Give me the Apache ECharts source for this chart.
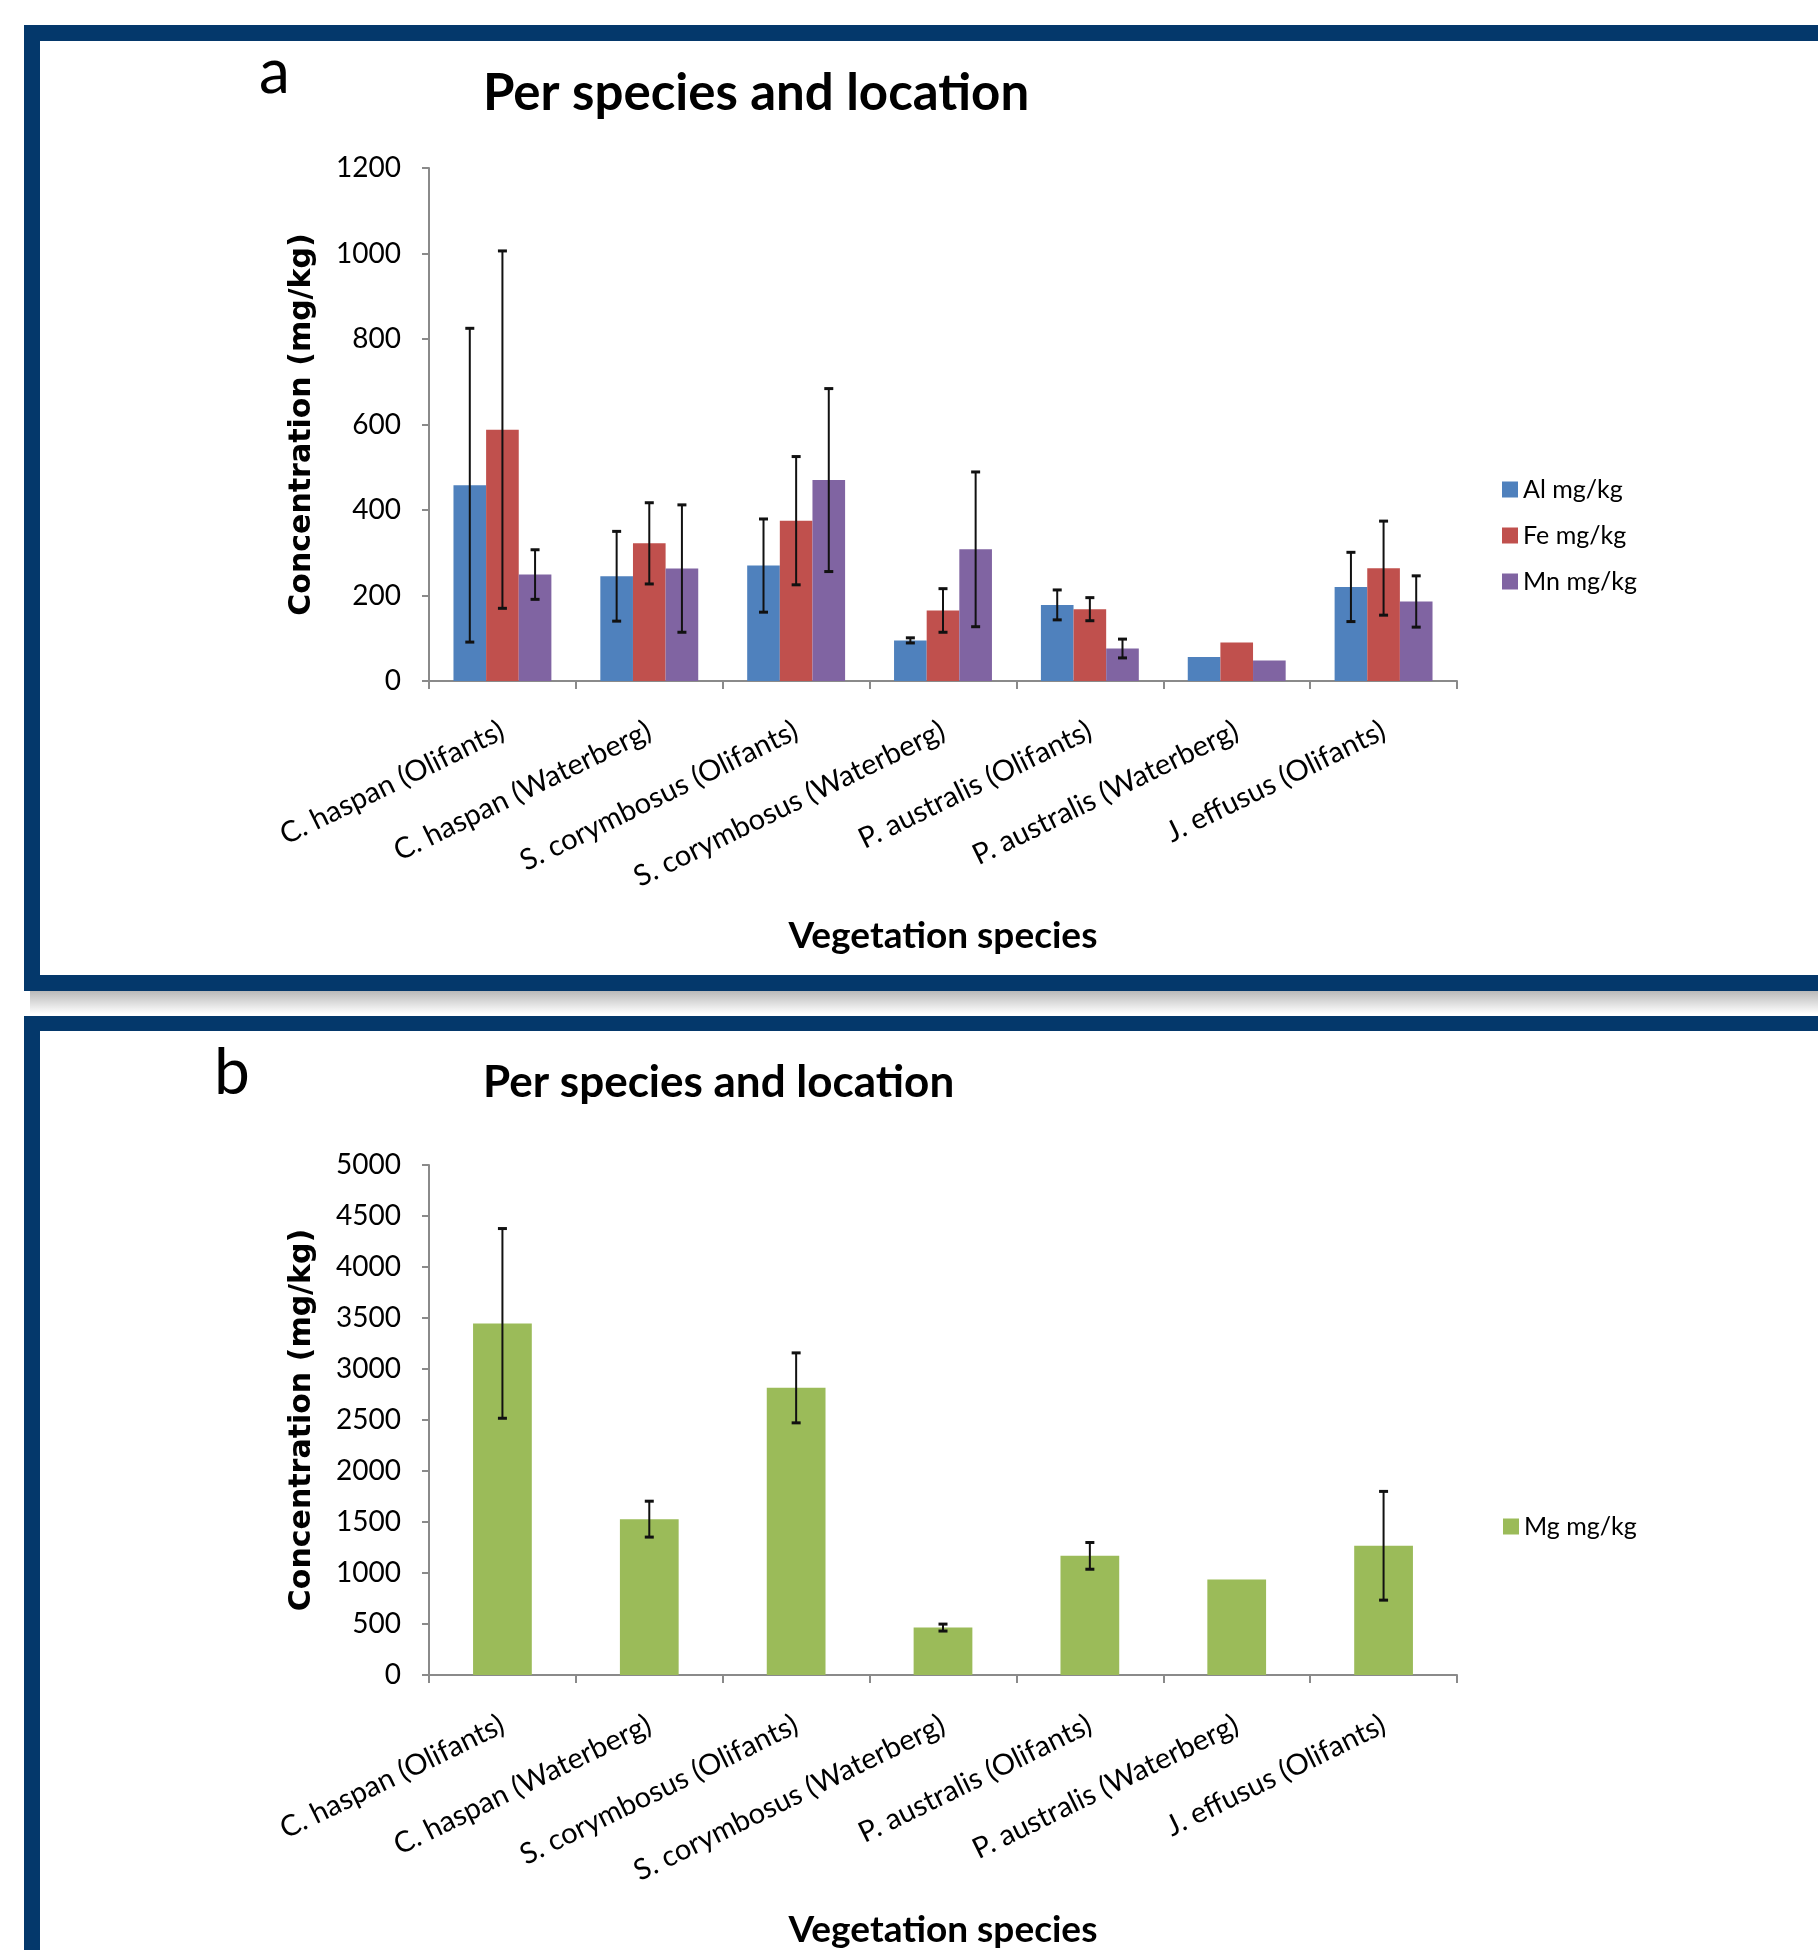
<!DOCTYPE html>
<html>
<head>
<meta charset="utf-8">
<title>Per species and location</title>
<script src="https://cdn.jsdelivr.net/npm/echarts@6/dist/echarts.min.js"></script>
<style>
  html, body { margin: 0; padding: 0; background: #fff; }
  #chart { width: 1818px; height: 1950px; }
</style>
</head>
<body>
<div id="chart"></div>
<script>
// categories (same for both panels)
const categories = [
    'C. haspan (Olifants)',
    'C. haspan (Waterberg)',
    'S. corymbosus (Olifants)',
    'S. corymbosus (Waterberg)',
    'P. australis (Olifants)',
    'P. australis (Waterberg)',
    'J. effusus (Olifants)'
];

// panel a: mean concentration and error (+/-), mg/kg
const alValues = [458, 245, 270, 95, 178, 56, 220];
const alErr = [367, 105, 109, 6, 35, 0, 81];
const feValues = [588, 322, 375, 165, 168, 90, 264];
const feErr = [418, 95, 150, 51, 27, 0, 110];
const mnValues = [249, 263, 470, 308, 76, 48, 186];
const mnErr = [58, 149, 214, 181, 22, 0, 60];

// panel b
const mgValues = [3447, 1528, 2815, 465, 1168, 937, 1267];
const mgErr = [930, 176, 343, 34, 131, 0, 533];

const yTicksA = { min: 0, max: 1200, interval: 200 };
const yTicksB = { min: 0, max: 5000, interval: 500 };

const navy = '#04386b';
const axisGray = '#8a8a8a';

const chart = echarts.init(document.getElementById('chart'));

// error bar data: [categoryIndex, low, high], skipped where no error bar was drawn
function errData(values, errs) {
    const out = [];
    values.forEach((v, i) => {
        if (errs[i]) out.push([i, v - errs[i], v + errs[i]]);
    });
    return out;
}

// slot = position of the bar inside its group, count = bars per group
function errorBarRenderer(slot, count) {
    return function (params, api) {
        const cat = api.value(0);
        const top = api.coord([cat, api.value(2)]);
        const bot = api.coord([cat, api.value(1)]);
        const band = api.size([1, 0])[0];
        const barW = count === 3 ? band / 4.5 : band * 0.4;
        const x = top[0] + (slot - (count - 1) / 2) * barW;
        const cap = 4.5;
        const capStyle = { stroke: '#111', lineWidth: 3 };
        return {
            type: 'group',
            children: [
                { type: 'line', shape: { x1: x, y1: top[1], x2: x, y2: bot[1] }, style: { stroke: '#111', lineWidth: 2 } },
                { type: 'line', shape: { x1: x - cap, y1: top[1], x2: x + cap, y2: top[1] }, style: capStyle },
                { type: 'line', shape: { x1: x - cap, y1: bot[1], x2: x + cap, y2: bot[1] }, style: capStyle }
            ]
        };
    };
}

const fontMain = 'Lato, "Open Sans", sans-serif';

function makeXAxis(gridIndex) {
    return {
        type: 'category',
        gridIndex: gridIndex,
        data: categories,
        name: 'Vegetation species',
        nameLocation: 'middle',
        nameGap: 237,
        nameMoveOverlap: false,
        nameTextStyle: { fontFamily: fontMain, fontWeight: 'bold', fontSize: 37, color: '#000' },
        axisLine: { lineStyle: { color: axisGray, width: 2 } },
        axisTick: { show: true, length: 8, interval: 0, lineStyle: { color: axisGray, width: 2 } },
        axisLabel: {
            interval: 0,
            rotate: 26,
            margin: 48,
            fontFamily: fontMain,
            fontSize: 29,
            color: '#000'
        },
        splitLine: { show: false }
    };
}

function makeYAxis(gridIndex, ticks) {
    return {
        type: 'value',
        gridIndex: gridIndex,
        min: ticks.min,
        max: ticks.max,
        interval: ticks.interval,
        name: 'Concentration (mg/kg)',
        nameLocation: 'middle',
        nameGap: 112,
        nameMoveOverlap: false,
        nameTextStyle: { fontFamily: '"DejaVu Sans", sans-serif', fontWeight: 'bold', fontSize: 30, color: '#000' },
        axisLine: { show: true, lineStyle: { color: axisGray, width: 2 } },
        axisTick: { show: true, length: 7, lineStyle: { color: axisGray, width: 2 } },
        axisLabel: {
            margin: 28,
            fontFamily: fontMain,
            fontSize: 28,
            color: '#000',
            formatter: value => String(value)
        },
        splitLine: { show: false }
    };
}

const option = {
    backgroundColor: '#fff',
    animation: false,
    graphic: [
        // panel a frame
        { type: 'rect', shape: { x: 24, y: 25, width: 1794, height: 16 }, style: { fill: navy } },
        { type: 'rect', shape: { x: 24, y: 25, width: 16, height: 966 }, style: { fill: navy } },
        { type: 'rect', shape: { x: 24, y: 975, width: 1794, height: 16 }, style: { fill: navy } },
        {
            type: 'rect', shape: { x: 30, y: 991, width: 1788, height: 23 },
            style: {
                fill: new echarts.graphic.LinearGradient(0, 0, 0, 1, [
                    { offset: 0, color: '#b9b9b9' },
                    { offset: 1, color: '#ffffff' }
                ])
            }
        },
        // panel b frame
        { type: 'rect', shape: { x: 24, y: 1016, width: 1794, height: 15 }, style: { fill: navy } },
        { type: 'rect', shape: { x: 24, y: 1016, width: 16, height: 934 }, style: { fill: navy } }
    ],
    title: [
        { text: 'a', left: 254, top: 37, textStyle: { fontFamily: fontMain, fontWeight: 'normal', fontSize: 62, color: '#000' } },
        { text: 'Per species and location', left: 478, top: 63, textStyle: { fontFamily: fontMain, fontWeight: 'bold', fontSize: 51, color: '#000' } },
        { text: 'b', left: 209, top: 1036, textStyle: { fontFamily: fontMain, fontWeight: 'normal', fontSize: 64, color: '#000' } },
        { text: 'Per species and location', left: 478, top: 1056, textStyle: { fontFamily: fontMain, fontWeight: 'bold', fontSize: 44, color: '#000' } }
    ],
    legend: [
        {
            data: ['Al mg/kg', 'Fe mg/kg', 'Mn mg/kg'],
            orient: 'vertical',
            left: 1497,
            top: 472,
            itemWidth: 16,
            itemHeight: 16,
            itemGap: 21,
            icon: 'rect',
            textStyle: { fontFamily: fontMain, fontSize: 25, color: '#000' }
        },
        {
            data: ['Mg mg/kg'],
            orient: 'vertical',
            left: 1498,
            top: 1509,
            itemWidth: 16,
            itemHeight: 16,
            icon: 'rect',
            textStyle: { fontFamily: fontMain, fontSize: 25, color: '#000' }
        }
    ],
    grid: [
        { left: 429, top: 168, width: 1028, height: 513 },
        { left: 429, top: 1165, width: 1028, height: 512 }
    ],
    xAxis: [makeXAxis(0), makeXAxis(1)],
    yAxis: [makeYAxis(0, yTicksA), makeYAxis(1, yTicksB)],
    series: [
        { name: 'Al mg/kg', type: 'bar', xAxisIndex: 0, yAxisIndex: 0, data: alValues, itemStyle: { color: '#4f81bd' }, barGap: '0%', barCategoryGap: '33.33%' },
        { name: 'Fe mg/kg', type: 'bar', xAxisIndex: 0, yAxisIndex: 0, data: feValues, itemStyle: { color: '#c0504d' }, barGap: '0%', barCategoryGap: '33.33%' },
        { name: 'Mn mg/kg', type: 'bar', xAxisIndex: 0, yAxisIndex: 0, data: mnValues, itemStyle: { color: '#8064a2' }, barGap: '0%', barCategoryGap: '33.33%' },
        { type: 'custom', xAxisIndex: 0, yAxisIndex: 0, z: 5, renderItem: errorBarRenderer(0, 3), data: errData(alValues, alErr), encode: { x: 0, y: [1, 2] } },
        { type: 'custom', xAxisIndex: 0, yAxisIndex: 0, z: 5, renderItem: errorBarRenderer(1, 3), data: errData(feValues, feErr), encode: { x: 0, y: [1, 2] } },
        { type: 'custom', xAxisIndex: 0, yAxisIndex: 0, z: 5, renderItem: errorBarRenderer(2, 3), data: errData(mnValues, mnErr), encode: { x: 0, y: [1, 2] } },

        { name: 'Mg mg/kg', type: 'bar', xAxisIndex: 1, yAxisIndex: 1, data: mgValues, itemStyle: { color: '#9bbb59' }, barCategoryGap: '60%' },
        { type: 'custom', xAxisIndex: 1, yAxisIndex: 1, z: 5, renderItem: errorBarRenderer(0, 1), data: errData(mgValues, mgErr), encode: { x: 0, y: [1, 2] } }
    ]
};

chart.setOption(option);
</script>
</body>
</html>
